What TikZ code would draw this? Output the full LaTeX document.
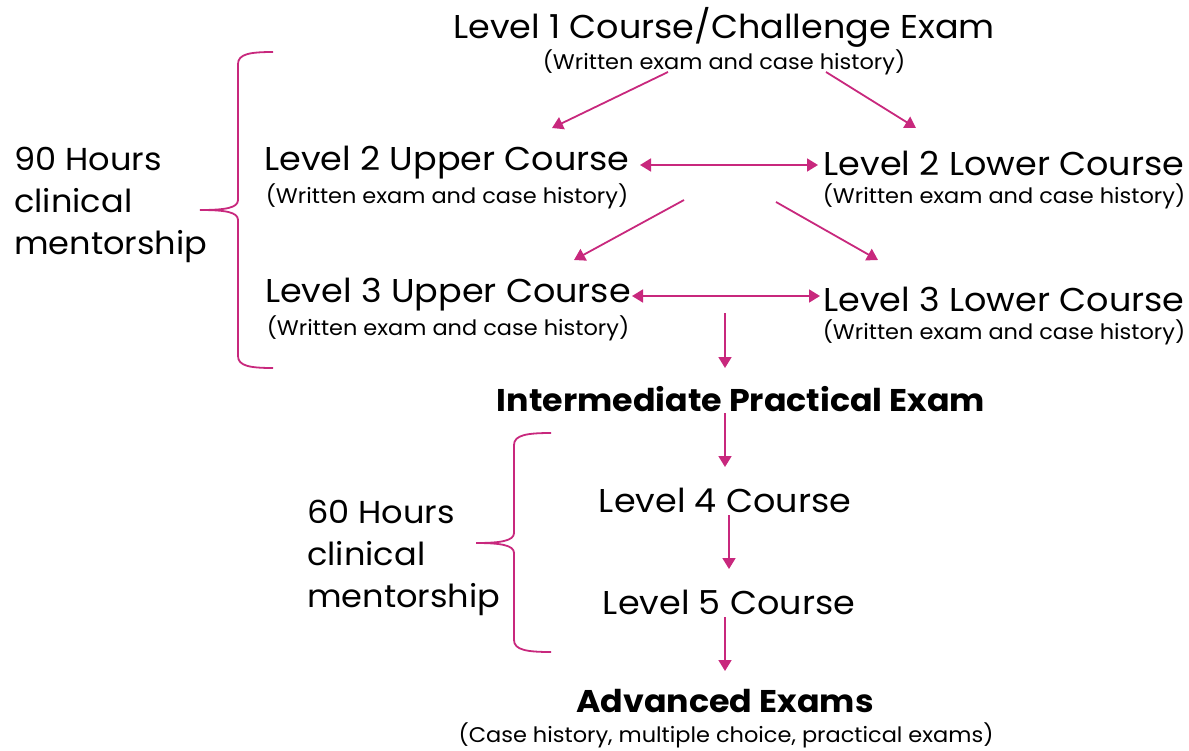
\documentclass[tikz,border=0pt]{standalone}
\usepackage{fontspec}
\setmainfont{Poppins}[FakeStretch=1.06]
\usetikzlibrary{arrows.meta}
\definecolor{mag}{RGB}{200,40,125}
\begin{document}
\begin{tikzpicture}[x=1pt,y=-1pt,
  big/.style={font=\fontsize{33}{36}\selectfont, inner sep=0pt, anchor=center},
  bold/.style={font=\fontsize{31.4}{34}\selectfont\bfseries, inner sep=0pt, anchor=center},
  small/.style={font=\fontsize{21.2}{24}\selectfont, inner sep=0pt, anchor=center},
  side/.style={font=\fontsize{31.7}{42}\selectfont, inner sep=0pt, anchor=west, align=left},
  arr/.style={draw=mag, line width=1.8pt, -{Triangle[width=13pt,length=11pt]}},
  darr/.style={draw=mag, line width=1.8pt, {Triangle[width=13pt,length=11pt]}-{Triangle[width=13pt,length=11pt]}},
  brace/.style={draw=mag, line width=1.8pt}]
\useasboundingbox (0,0) rectangle (1189,750);
% texts
\node[big] (l1) at (724,27) {Level 1 Course/Challenge Exam};
\node[small] (l1s) at (724,62) {(Written exam and case history)};
\node[big] (l2u) at (447,163) {Level 2 Upper Course};
\node[small] (l2us) at (447,196) {(Written exam and case history)};
\node[big] (l2l) at (1004,163) {Level 2 Lower Course};
\node[small] (l2ls) at (1004,196) {(Written exam and case history)};
\node[big] (l3u) at (448,295) {Level 3 Upper Course};
\node[small] (l3us) at (448,328) {(Written exam and case history)};
\node[big] (l3l) at (1004,299) {Level 3 Lower Course};
\node[small] (l3ls) at (1004,332) {(Written exam and case history)};
\node[bold] (ipe) at (741,399) {Intermediate Practical Exam};
\node[big] (l4) at (725,500) {Level 4 Course};
\node[big] (l5) at (729,602) {Level 5 Course};
\node[bold] (adv) at (725,701) {Advanced Exams};
\node[small] (advs) at (726,735) {(Case history, multiple choice, practical exams)};
\node[side] (h90) at (14,205) {90 Hours\\clinical\\mentorship};
\node[side] (h60) at (307,558) {60 Hours\\clinical\\mentorship};
% arrow endpoints
\coordinate (a1s) at (668,72); \coordinate (a1e) at (552,128);
\coordinate (a2s) at (826,72); \coordinate (a2e) at (916,128);
\coordinate (b1s) at (640,165); \coordinate (b1e) at (818,165);
\coordinate (c1s) at (684,200); \coordinate (c1e) at (574,260);
\coordinate (c2s) at (776,202); \coordinate (c2e) at (878,260);
\coordinate (d1s) at (632,296); \coordinate (d1e) at (820,296);
\coordinate (e1s) at (725,313); \coordinate (e1e) at (725,368);
\coordinate (f1s) at (725,413); \coordinate (f1e) at (725,467);
\coordinate (g1s) at (729,515); \coordinate (g1e) at (729,569);
\coordinate (h1s) at (725,617); \coordinate (h1e) at (725,671);
\draw[arr] (a1s) -- (a1e);
\draw[arr] (a2s) -- (a2e);
\draw[darr] (b1s) -- (b1e);
\draw[arr] (c1s) -- (c1e);
\draw[arr] (c2s) -- (c2e);
\draw[darr] (d1s) -- (d1e);
\draw[arr] (e1s) -- (e1e);
\draw[arr] (f1s) -- (f1e);
\draw[arr] (g1s) -- (g1e);
\draw[arr] (h1s) -- (h1e);
% braces
\coordinate (br1t) at (273,52); \coordinate (br1m) at (200,210); \coordinate (br1b) at (273,368);
\draw[brace] (br1t) .. controls (250,52) and (238,54) .. (238,64)
  -- (238,200) .. controls (238,208) and (225,210) .. (br1m)
  .. controls (225,210) and (238,212) .. (238,220)
  -- (238,356) .. controls (238,366) and (250,368) .. (br1b);
\coordinate (br2t) at (551,433); \coordinate (br2m) at (476,543); \coordinate (br2b) at (551,652);
\draw[brace] (br2t) .. controls (527,433) and (514,435) .. (514,445)
  -- (514,533) .. controls (514,541) and (500,543) .. (br2m)
  .. controls (500,543) and (514,545) .. (514,553)
  -- (514,640) .. controls (514,650) and (527,652) .. (br2b);
\end{tikzpicture}
\end{document}
